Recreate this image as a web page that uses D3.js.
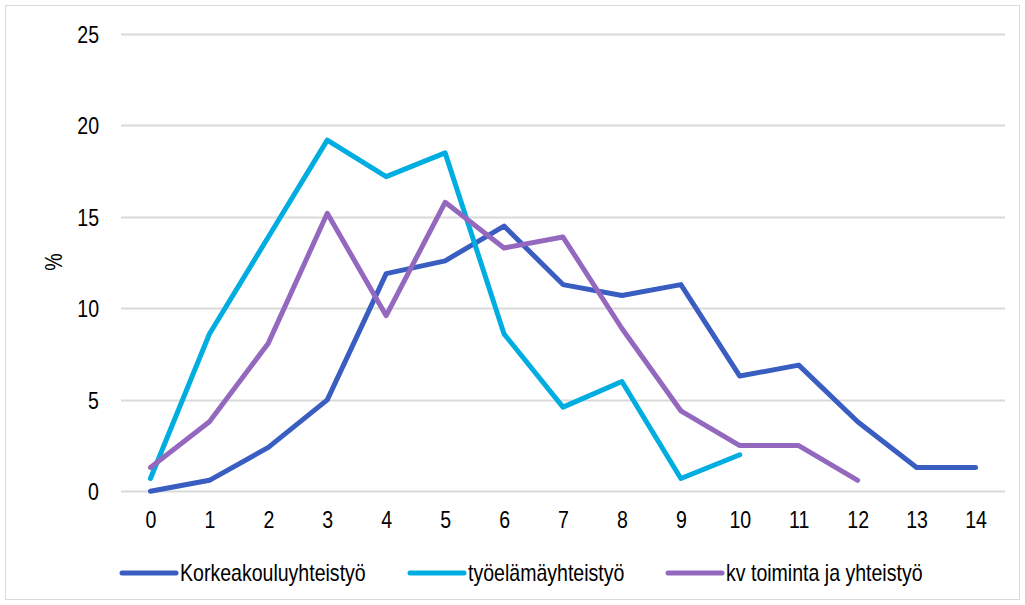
<!DOCTYPE html>
<html>
<head>
<meta charset="utf-8">
<script src="https://cdn.jsdelivr.net/npm/d3@7"></script>
<style>
  body { margin: 0; background: #fff; }
  svg text { font-family: "Liberation Sans", Arial, sans-serif; fill: #000; }
</style>
</head>
<body>
<div id="chart"></div>
<script>
var categories = [0, 1, 2, 3, 4, 5, 6, 7, 8, 9, 10, 11, 12, 13, 14];
var yTicks = [0, 5, 10, 15, 20, 25];

var korkeakoulu = [0, 0.6, 2.4, 5.0, 11.9, 12.6, 14.5, 11.3, 10.7, 11.3, 6.3, 6.9, 3.8, 1.3, 1.3];
var tyoelama = [0.7, 8.6, 13.9, 19.2, 17.2, 18.5, 8.6, 4.6, 6.0, 0.7, 2.0];
var kvToiminta = [1.3, 3.8, 8.1, 15.2, 9.6, 15.8, 13.3, 13.9, 8.9, 4.4, 2.5, 2.5, 0.6];

var seriesNames = ["Korkeakouluyhteistyö", "työelämäyhteistyö", "kv toiminta ja yhteistyö"];
var seriesColors = ["#3a5dc2", "#00ade0", "#9468be"];

var width = 1025, height = 605;
var margin = { top: 34, bottom: 114, left: 121, right: 20 };

// the source font is a narrow one, so squeeze the text a bit
var squeeze = "scale(0.85,1)";

var svg = d3.select("#chart").append("svg")
  .attr("width", width)
  .attr("height", height);

// frame round the chart
svg.append("rect")
  .attr("x", 5.5).attr("y", 5.5)
  .attr("width", 1014).attr("height", 594)
  .attr("fill", "none")
  .attr("stroke", "#d9d9d9")
  .attr("stroke-width", 1);

var x = d3.scalePoint()
  .domain(categories)
  .range([margin.left, 1005])
  .padding(0.5);

var y = d3.scaleLinear()
  .domain([0, 25])
  .range([491.3, margin.top]);

// grid
svg.append("g").attr("class", "grid")
  .selectAll("line")
  .data(yTicks)
  .enter()
  .append("line")
  .attr("x1", margin.left)
  .attr("x2", 1005)
  .attr("y1", function(d) { return Math.round(y(d)) + 0.5; })
  .attr("y2", function(d) { return Math.round(y(d)) + 0.5; })
  .attr("stroke", "#d9d9d9")
  .attr("stroke-width", 2);

// y axis labels
var yAxis = d3.axisLeft(y).tickValues(yTicks).tickSize(0).tickPadding(0);
svg.append("g")
  .attr("transform", "translate(99,0)")
  .call(yAxis)
  .call(function(g) { g.select(".domain").remove(); })
  .selectAll("text")
  .style("font-size", "23px")
  .attr("transform", squeeze)
  .attr("dy", "0.36em");

// x axis labels
var xAxis = d3.axisBottom(x).tickSize(0).tickPadding(0);
svg.append("g")
  .attr("transform", "translate(0,520)")
  .call(xAxis)
  .call(function(g) { g.select(".domain").remove(); })
  .selectAll("text")
  .style("font-size", "23px")
  .attr("transform", squeeze)
  .attr("dy", "0.36em");

svg.append("text")
  .attr("transform", "translate(62,262) rotate(-90) " + squeeze)
  .style("text-anchor", "middle")
  .style("font-size", "23px")
  .text("%");

var line = d3.line()
  .x(function(d, i) { return x(categories[i]); })
  .y(function(d) { return y(d); });

var allSeries = [korkeakoulu, tyoelama, kvToiminta];

svg.append("g").selectAll("path")
  .data(allSeries)
  .enter()
  .append("path")
  .attr("d", line)
  .attr("fill", "none")
  .attr("stroke", function(d, i) { return seriesColors[i]; })
  .attr("stroke-width", 5)
  .attr("stroke-linejoin", "round")
  .attr("stroke-linecap", "round");

// legend
var legendX = [122, 410, 668];
var legend = svg.append("g").selectAll("g")
  .data(seriesNames)
  .enter()
  .append("g")
  .attr("transform", function(d, i) { return "translate(" + legendX[i] + ",573)"; });

legend.append("line")
  .attr("x1", 0).attr("x2", 54)
  .attr("stroke", function(d, i) { return seriesColors[i]; })
  .attr("stroke-width", 5)
  .attr("stroke-linecap", "round");

legend.append("text")
  .attr("transform", "translate(58,0) " + squeeze)
  .attr("dy", "0.36em")
  .style("font-size", "23px")
  .text(function(d) { return d; });
</script>
</body>
</html>
